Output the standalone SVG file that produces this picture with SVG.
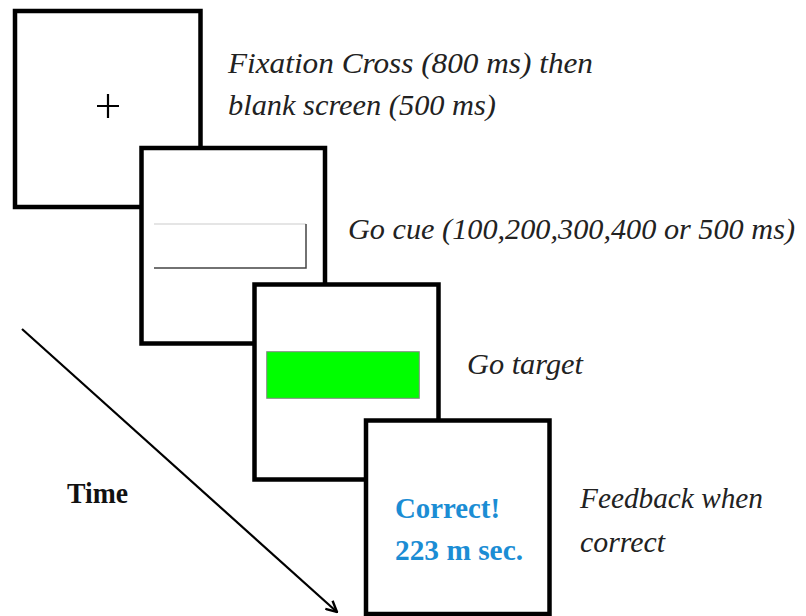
<svg xmlns="http://www.w3.org/2000/svg" width="806" height="616" viewBox="0 0 806 616">
<style>
.screen{fill:#fff;stroke:#000;stroke-width:4.5}
</style>
<defs>
<marker id="arr" viewBox="0 0 12 12" refX="11" refY="6" markerWidth="13" markerHeight="13" markerUnits="userSpaceOnUse" orient="auto">
<polyline points="1,1 11,6 1,11" fill="none" stroke="#000" stroke-width="2.2"/>
</marker>
</defs>
<rect width="806" height="616" fill="#fff"/>
<g id="connectors">
<line x1="22" y1="329" x2="337" y2="612" stroke="#000" stroke-width="2.2" marker-end="url(#arr)"/>
</g>
<g font-family="Liberation Serif, serif" font-style="italic" font-size="29" fill="#222">
<g id="fixation">
<rect class="screen" x="15" y="11" width="185.5" height="196"/>
<path d="M97 106H119M108 94V118" stroke="#000" stroke-width="2.2"/>
<text x="228" y="73" textLength="365" lengthAdjust="spacingAndGlyphs">Fixation Cross (800 ms) then</text>
<text x="228" y="115" textLength="268" lengthAdjust="spacingAndGlyphs">blank screen (500 ms)</text>
</g>
<g id="gocue">
<rect class="screen" x="141.5" y="148" width="183.5" height="195.5"/>
<line x1="154" y1="224" x2="306" y2="224" stroke="#ddd" stroke-width="1.5"/>
<polyline points="306,224 306,268 154,268" fill="none" stroke="#444" stroke-width="1.5"/>
<text x="348" y="239" textLength="447" lengthAdjust="spacingAndGlyphs">Go cue (100,200,300,400 or 500 ms)</text>
</g>
<g id="gotarget">
<rect class="screen" x="254.5" y="284.5" width="184" height="195"/>
<rect x="266.7" y="351.7" width="152.6" height="46.6" fill="#00ff00" stroke="#888" stroke-width="1"/>
<text x="467" y="374" textLength="116" lengthAdjust="spacingAndGlyphs">Go target</text>
</g>
<g id="feedback">
<rect class="screen" x="366" y="420.5" width="183.5" height="193.5"/>
<text x="395" y="518" font-style="normal" font-weight="bold" fill="#1b8dd4" textLength="105" lengthAdjust="spacingAndGlyphs">Correct!</text>
<text x="395" y="560" font-style="normal" font-weight="bold" fill="#1b8dd4" textLength="128" lengthAdjust="spacingAndGlyphs">223 m sec.</text>
<text x="580" y="508" textLength="183" lengthAdjust="spacingAndGlyphs">Feedback when</text>
<text x="580" y="552" textLength="85" lengthAdjust="spacingAndGlyphs">correct</text>
</g>
<g id="time">
<text x="67" y="503" font-style="normal" font-weight="bold" font-size="30" fill="#111" textLength="61" lengthAdjust="spacingAndGlyphs">Time</text>
</g>
</g>
</svg>
